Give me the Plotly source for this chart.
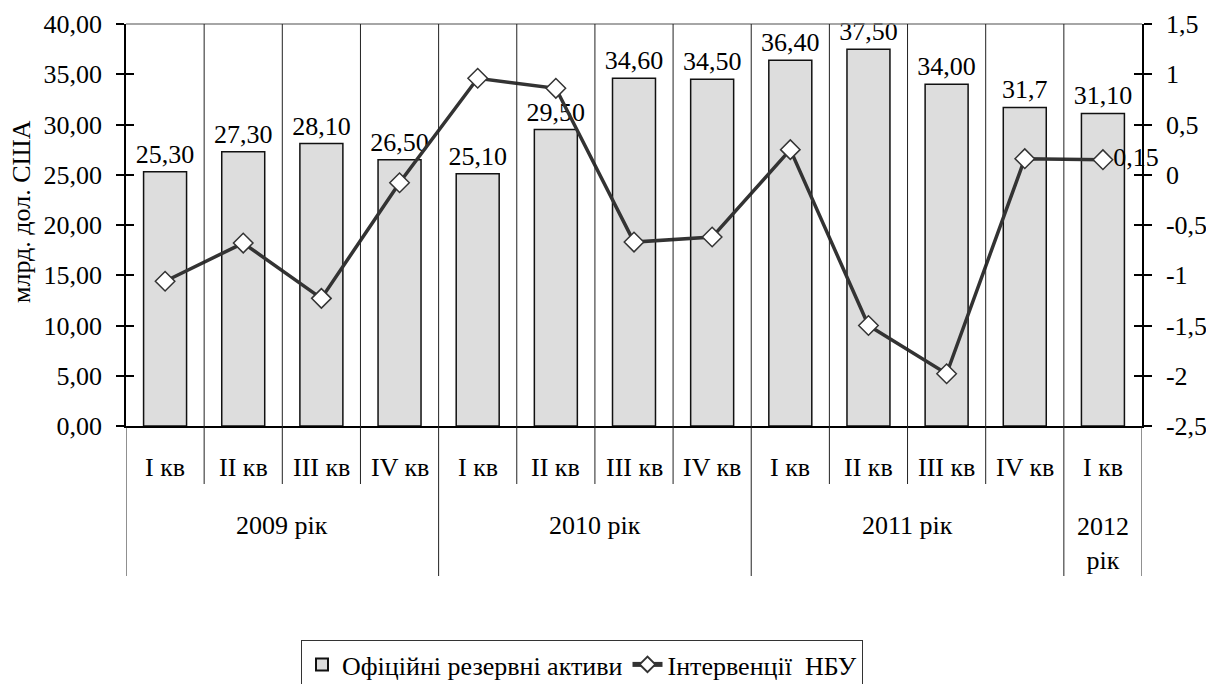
import plotly.graph_objects as go

# ---- data ----
quarters = ["I кв", "II кв", "III кв", "IV кв", "I кв", "II кв", "III кв", "IV кв",
            "I кв", "II кв", "III кв", "IV кв", "I кв"]
years = ["2009 рік", "2010 рік", "2011 рік", "2012<br>рік"]
year_sizes = [4, 4, 4, 1]
reserves = [25.3, 27.3, 28.1, 26.5, 25.1, 29.5, 34.6, 34.5, 36.4, 37.5, 34.0, 31.7, 31.1]
reserve_labels = ["25,30", "27,30", "28,10", "26,50", "25,10", "29,50", "34,60", "34,50",
                  "36,40", "37,50", "34,00", "31,7", "31,10"]
interventions = [-1.06, -0.68, -1.23, -0.08, 0.96, 0.86, -0.67, -0.62, 0.25, -1.50, -1.98, 0.16, 0.15]
intervention_labels = ["", "", "", "", "", "", "", "", "", "", "", "", "0,15"]
left_tickvals = [0, 5, 10, 15, 20, 25, 30, 35, 40]
left_ticktext = ["0,00", "5,00", "10,00", "15,00", "20,00", "25,00", "30,00", "35,00", "40,00"]
right_tickvals = [-2.5, -2, -1.5, -1, -0.5, 0, 0.5, 1, 1.5]
right_ticktext = ["-2,5", "-2", "-1,5", "-1", "-0,5", "0", "0,5", "1", "1,5"]
y_title = "млрд. дол. США"

W, H = 1206, 684
L, R, T, B = 126, 1142, 24, 426
FONT = "'Liberation Serif', 'Times New Roman', 'DejaVu Serif', serif"
FS = 26
CAT_FS = 26


def py(ypx):
    return (B - ypx) / (B - T)


def px(xpx):
    return (xpx - L) / (R - L)


xs = list(range(len(quarters)))

fig = go.Figure()
fig.add_trace(go.Bar(
    x=xs, y=reserves, name="Офіційні резервні активи",
    marker=dict(color="#dddddd", line=dict(color="#111111", width=1.5)),
    width=0.55, text=reserve_labels, textposition="outside", constraintext="none",
    textfont=dict(family=FONT, size=FS, color="black"), cliponaxis=False,
    yaxis="y"))
fig.add_trace(go.Scatter(
    x=xs, y=interventions, name="Інтервенції  НБУ", mode="lines+markers+text",
    line=dict(color="#333333", width=3.5),
    marker=dict(symbol="diamond", size=15, color="white", line=dict(color="#333333", width=1.5)),
    text=intervention_labels, textposition="middle right",
    textfont=dict(family=FONT, size=FS, color="black"), cliponaxis=False,
    yaxis="y2"))

n = len(quarters)
shapes = []
# top border
shapes.append(dict(type="line", xref="paper", yref="paper", x0=0, x1=1, y0=1, y1=1,
                   line=dict(color="#888888", width=1.5)))
# category boundaries
year_bounds = [0]
for s in year_sizes:
    year_bounds.append(year_bounds[-1] + s)
for i in range(n + 1):
    long = i in year_bounds
    y0 = py(576) if long else py(484)
    y1 = 1 if 0 < i < n else 0
    shapes.append(dict(type="line", xref="x", yref="paper", x0=i - 0.5, x1=i - 0.5,
                       y0=y0, y1=y1, line=dict(color="#222222", width=1)))

annotations = []
for i, q in enumerate(quarters):
    annotations.append(dict(x=i, y=py(467), xref="x", yref="paper", text=q, showarrow=False,
                            font=dict(family=FONT, size=CAT_FS, color="black"), yanchor="middle"))
for k, yname in enumerate(years):
    cx = (year_bounds[k] + year_bounds[k + 1] - 1) / 2
    yy = py(543) if "<br>" in yname else py(525)
    annotations.append(dict(x=cx, y=yy, xref="x", yref="paper", text=yname, showarrow=False,
                            font=dict(family=FONT, size=CAT_FS, color="black"), yanchor="middle"))
annotations.append(dict(x=px(21), y=py(212), xref="paper", yref="paper", text=y_title,
                        textangle=-90, showarrow=False, xanchor="center", yanchor="middle",
                        font=dict(family=FONT, size=FS, color="black")))

fig.update_layout(
    width=W, height=H,
    margin=dict(l=L, r=W - R, t=T, b=H - B, autoexpand=False),
    paper_bgcolor="white", plot_bgcolor="white",
    font=dict(family=FONT, size=FS, color="black"),
    bargap=0.45,
    xaxis=dict(range=[-0.5, n - 0.5], showticklabels=False, showgrid=False, zeroline=False,
               showline=True, linecolor="black", linewidth=1.5, ticks=""),
    yaxis=dict(range=[0, 40], tickvals=left_tickvals, ticktext=left_ticktext,
               showgrid=False, zeroline=False, showline=True, linecolor="black", linewidth=1.5,
               ticks="outside", ticklen=8, tickwidth=1.5, tickcolor="black",
               ticklabelstandoff=9, tickfont=dict(family=FONT, size=FS)),
    yaxis2=dict(range=[-2.5, 1.5], tickvals=right_tickvals, ticktext=right_ticktext,
                overlaying="y", side="right", showgrid=False, zeroline=False,
                showline=True, linecolor="black", linewidth=1.5,
                ticks="outside", ticklen=8, tickwidth=1.5, tickcolor="black",
                ticklabelstandoff=9, tickfont=dict(family=FONT, size=FS)),
    yaxis3=dict(range=[0, 40], tickvals=left_tickvals, overlaying="y", side="left",
                showticklabels=False, showgrid=False, zeroline=False, ticks="inside",
                ticklen=8, tickwidth=1.5, tickcolor="black"),
    yaxis4=dict(range=[-2.5, 1.5], tickvals=right_tickvals, overlaying="y", side="right",
                showticklabels=False, showgrid=False, zeroline=False, ticks="inside",
                ticklen=8, tickwidth=1.5, tickcolor="black"),
    shapes=shapes, annotations=annotations,
    showlegend=True,
    legend=dict(orientation="h", x=px(582), xanchor="center", y=py(640), yanchor="top",
                bordercolor="#333333", borderwidth=1, bgcolor="white", itemwidth=30,
                font=dict(family=FONT, size=FS), itemsizing="constant", tracegroupgap=0),
)
# dummy traces to activate tick-only axes
fig.add_trace(go.Scatter(x=[None], y=[None], yaxis="y3", showlegend=False, hoverinfo="skip"))
fig.add_trace(go.Scatter(x=[None], y=[None], yaxis="y4", showlegend=False, hoverinfo="skip"))

fig.write_html("out.html", config={"displayModeBar": False},
               post_script="document.body.style.margin='0';document.body.style.overflow='hidden';")
